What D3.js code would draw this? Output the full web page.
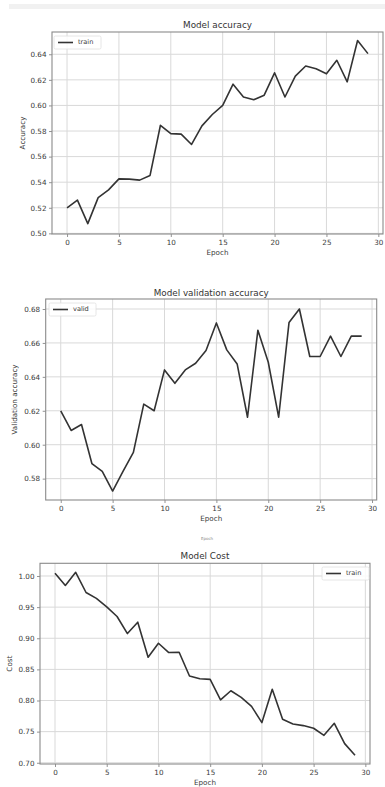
<!DOCTYPE html>
<html>
<head>
<meta charset="utf-8">
<script src="https://cdn.jsdelivr.net/npm/d3@7"></script>
<style>
  html, body { margin: 0; padding: 0; background: #fff; }
  svg { display: block; font-family: "DejaVu Sans", sans-serif; }
</style>
</head>
<body>
<svg id="chart" width="385" height="787"></svg>
<script>
// ---- data ----
const epochs = d3.range(0, 30);
const trainAccuracy = [0.520, 0.526, 0.5076, 0.5279, 0.534, 0.5426, 0.5424, 0.5416, 0.5453, 0.5845,
  0.578, 0.5776, 0.5695, 0.584, 0.5929, 0.600, 0.6166, 0.6066, 0.6045, 0.608,
  0.6255, 0.6066, 0.6229, 0.6308, 0.6287, 0.6247, 0.6353, 0.6184, 0.6508, 0.6405];
const validAccuracy = [0.620, 0.6084, 0.6119, 0.5889, 0.5843, 0.5727, 0.5843, 0.5955, 0.6239, 0.620,
  0.6441, 0.6362, 0.6441, 0.648, 0.6555, 0.6718, 0.6559, 0.6476, 0.6162, 0.6675,
  0.6486, 0.6162, 0.672, 0.680, 0.652, 0.652, 0.664, 0.652, 0.664, 0.664];
const trainCost = [1.0043, 0.9848, 1.006, 0.9735, 0.964, 0.9505, 0.935, 0.9075, 0.9258, 0.8694,
  0.892, 0.877, 0.8775, 0.8393, 0.835, 0.834, 0.801, 0.8157, 0.805, 0.7905,
  0.7645, 0.818, 0.7698, 0.7623, 0.7597, 0.7554, 0.7441, 0.7634, 0.7307, 0.712];
const xTicks = [0, 5, 10, 15, 20, 25, 30];
const accTicks = [0.50, 0.52, 0.54, 0.56, 0.58, 0.60, 0.62, 0.64];
const validTicks = [0.58, 0.60, 0.62, 0.64, 0.66, 0.68];
const costTicks = [0.70, 0.75, 0.80, 0.85, 0.90, 0.95, 1.00];
const titles = ["Model accuracy", "Model validation accuracy", "Model Cost"];
const yLabels = ["Accuracy", "Validation accuracy", "Cost"];
const legendLabels = ["train", "valid", "train"];

// ---- layout ----
const panels = [
  { values: trainAccuracy, ticks: accTicks, yDom: [0.4995, 0.6574], fmt: ".2f",
    box: { l: 52, t: 32, r: 383, b: 234 }, titleY: 28, yLabX: 23,
    leg: { x: 54, y: 36 } },
  { values: validAccuracy, ticks: validTicks, yDom: [0.5674, 0.6859], fmt: ".2f",
    box: { l: 45.7, t: 299, r: 376.7, b: 500 }, titleY: 295.5, yLabX: 15,
    leg: { x: 49, y: 303 } },
  { values: trainCost, ticks: costTicks, yDom: [0.698, 1.0204], fmt: ".2f",
    box: { l: 40, t: 563.3, r: 370, b: 764 }, titleY: 558.5, yLabX: 10,
    leg: { x: 322, y: 567 } }
];

const svg = d3.select("#chart");
const textCol = "#3a3a3a";

// faint band at the top (screenshot artifact)
svg.append("rect").attr("x", 9).attr("y", 4).attr("width", 376).attr("height", 5).attr("fill", "#f1f1f1");
svg.append("text").attr("x", 207).attr("y", 540).attr("text-anchor", "middle")
  .attr("font-size", 4).attr("fill", "#888").text("Epoch");

panels.forEach((p, i) => {
  const b = p.box;
  const x = d3.scaleLinear().domain([-1.45, 30.45]).range([b.l, b.r]);
  const y = d3.scaleLinear().domain(p.yDom).range([b.b, b.t]);
  const g = svg.append("g");

  // grid
  g.append("g").selectAll("line").data(xTicks).join("line")
    .attr("x1", d => x(d)).attr("x2", d => x(d)).attr("y1", b.t).attr("y2", b.b)
    .attr("stroke", "#d9d9d9").attr("stroke-width", 1);
  g.append("g").selectAll("line").data(p.ticks).join("line")
    .attr("x1", b.l).attr("x2", b.r).attr("y1", d => y(d)).attr("y2", d => y(d))
    .attr("stroke", "#d9d9d9").attr("stroke-width", 1);

  // axes
  const xAxis = d3.axisBottom(x).tickValues(xTicks).tickSize(3).tickPadding(2.5).tickFormat(d3.format("d"));
  const yAxis = d3.axisLeft(y).tickValues(p.ticks).tickSize(3).tickPadding(2.5).tickFormat(d3.format(p.fmt));
  const xg = g.append("g").attr("transform", `translate(0,${b.b})`).call(xAxis);
  const yg = g.append("g").attr("transform", `translate(${b.l},0)`).call(yAxis);
  [xg, yg].forEach(ag => {
    ag.select(".domain").remove();
    ag.selectAll(".tick line").attr("stroke", "#777").attr("stroke-width", 0.8);
    ag.selectAll(".tick text").attr("fill", textCol).attr("font-size", 7.2)
      .attr("font-family", "DejaVu Sans, sans-serif");
  });

  // frame
  g.append("rect").attr("x", b.l).attr("y", b.t).attr("width", b.r - b.l).attr("height", b.b - b.t)
    .attr("fill", "none").attr("stroke", "#8a8a8a").attr("stroke-width", 1.1);

  // line
  const line = d3.line().x((d, j) => x(epochs[j])).y(d => y(d));
  g.append("path").datum(p.values).attr("d", line)
    .attr("fill", "none").attr("stroke", "#333").attr("stroke-width", 1.6).attr("stroke-linejoin", "round");

  // title
  g.append("text").attr("x", (b.l + b.r) / 2).attr("y", p.titleY).attr("text-anchor", "middle")
    .attr("font-size", 8.8).attr("fill", "#333").text(titles[i]);
  // x label
  g.append("text").attr("x", (b.l + b.r) / 2).attr("y", b.b + 21).attr("text-anchor", "middle")
    .attr("font-size", 7.2).attr("fill", textCol).text("Epoch");
  // y label
  g.append("text").attr("transform", `translate(${p.yLabX},${(b.t + b.b) / 2}) rotate(-90)`)
    .attr("text-anchor", "middle").attr("dominant-baseline", "middle")
    .attr("font-size", 7.2).attr("fill", textCol).text(yLabels[i]);

  // legend
  const L = p.leg;
  const lg = g.append("g").attr("transform", `translate(${L.x},${L.y})`);
  lg.append("rect").attr("width", 47).attr("height", 13).attr("rx", 1.5)
    .attr("fill", "#fff").attr("fill-opacity", 0.85).attr("stroke", "#e0e0e0").attr("stroke-width", 0.8);
  lg.append("line").attr("x1", 4).attr("x2", 19).attr("y1", 6.5).attr("y2", 6.5)
    .attr("stroke", "#333").attr("stroke-width", 1.6);
  lg.append("text").attr("x", 24).attr("y", 6.7).attr("dominant-baseline", "middle")
    .attr("font-size", 6.6).attr("fill", textCol).text(legendLabels[i]);
});
</script>
</body>
</html>
